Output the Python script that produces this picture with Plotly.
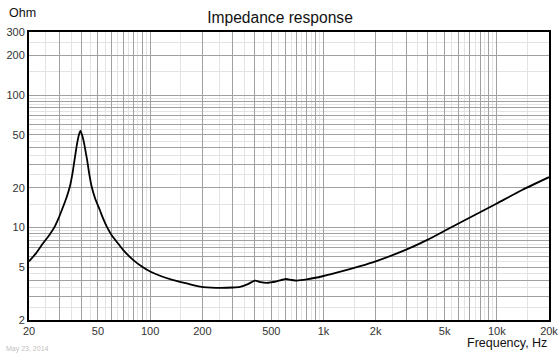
import plotly.graph_objects as go

# Impedance curve
freq_hz = [20, 22, 24.1, 26.4, 28.1, 29.6, 30.9, 32.9, 34.4, 35.7, 36.6, 37.3, 37.9, 38.8,
           39.6, 40.5, 41.6, 42.5, 43.3, 44.4, 46.0, 48.2, 51.3, 53.5, 56.3, 60.1, 65.7,
           70, 80, 90, 100, 115, 136, 160, 194, 240,
           300, 330, 369, 403, 435, 471, 537, 608, 650, 701, 801, 1000, 1300, 1626,
           2000, 3000, 4000, 5000, 7000, 10000, 14000, 20000]
impedance_ohm = [5.55, 6.4, 7.6, 8.9, 10.1, 11.7, 13.5, 16.8, 20.3, 26, 32.3, 38, 43.2, 50,
                 53.8, 50, 43.2, 37, 32.3, 26, 20.3, 16.5, 13.5, 11.7, 10.1, 8.7, 7.5,
                 6.75, 5.67, 5.05, 4.65, 4.3, 4.0, 3.8, 3.57, 3.5,
                 3.52, 3.56, 3.75, 3.97, 3.86, 3.82, 3.92, 4.08, 4.02, 3.97, 4.05, 4.3,
                 4.7, 5.1, 5.55, 6.8, 8.1, 9.45, 11.9, 15.2, 19.2, 24.0]

# Axis ticks / grid
x_major = [20, 30, 40, 50, 60, 70, 80, 90, 100, 200, 300, 400, 500, 600, 700, 800, 900,
           1000, 2000, 3000, 4000, 5000, 6000, 7000, 8000, 9000, 10000, 20000]
x_labels = {20: "20", 50: "50", 100: "100", 200: "200", 500: "500", 1000: "1k",
            2000: "2k", 5000: "5k", 10000: "10k", 20000: "20k"}
x_minor = [25, 35, 45, 55, 65, 75, 85, 95, 150, 250, 350, 450, 550, 650, 750, 850, 950,
           1500, 2500, 3500, 4500, 5500, 6500, 7500, 8500, 9500, 15000]
y_major = [2, 3, 4, 5, 6, 7, 8, 9, 10, 20, 30, 40, 50, 60, 70, 80, 90, 100, 200, 300]
y_labels = {2: "2", 5: "5", 10: "10", 20: "20", 50: "50", 100: "100", 200: "200", 300: "300"}
y_minor = [2.5, 3.5, 4.5, 5.5, 6.5, 7.5, 8.5, 9.5, 15, 25, 35, 45, 55, 65, 75, 85, 95,
           150, 250]

FONT = "Liberation Sans, Arial, sans-serif"
DARK_GRID = "#a0a0a0"
LIGHT_GRID = "#e3e3e3"

fig = go.Figure()
fig.add_trace(go.Scatter(x=freq_hz, y=impedance_ohm, mode="lines",
                         line=dict(color="#000000", width=1.8, shape="spline", smoothing=0.6),
                         hoverinfo="skip", showlegend=False))

fig.update_layout(
    width=560, height=356,
    margin=dict(l=29, r=11, t=32, b=36),
    paper_bgcolor="white", plot_bgcolor="white",
    font=dict(family=FONT, size=11, color="#333333"),
    title=dict(text="Impedance response", x=0.5, xref="container", xanchor="center",
               y=1 - 18 / 356, yref="container", yanchor="middle",
               font=dict(family=FONT, size=15.6, color="#111111")),
    showlegend=False,
)

fig.update_xaxes(
    type="log", range=[1.30103, 4.30103], automargin=False,
    tickmode="array", tickvals=x_major,
    ticktext=[x_labels.get(v, "") for v in x_major],
    showgrid=True, gridcolor=DARK_GRID, gridwidth=1,
    minor=dict(tickmode="array", tickvals=x_minor, showgrid=True,
               gridcolor=LIGHT_GRID, gridwidth=1, ticks=""),
    ticks="", showline=True, mirror=True, linecolor="#000000", linewidth=2,
    zeroline=False, tickfont=dict(size=11, color="#333333"),
)
fig.update_yaxes(
    type="log", range=[0.30103, 2.47712], automargin=False,
    tickmode="array", tickvals=y_major,
    ticktext=[y_labels.get(v, "") for v in y_major],
    showgrid=True, gridcolor=DARK_GRID, gridwidth=1,
    minor=dict(tickmode="array", tickvals=y_minor, showgrid=True,
               gridcolor=LIGHT_GRID, gridwidth=1, ticks=""),
    ticks="", showline=True, mirror=True, linecolor="#000000", linewidth=2,
    zeroline=False, tickfont=dict(size=11, color="#333333"),
)

fig.add_annotation(text="Ohm", xref="paper", yref="paper", x=-22 / 520, y=1 + 19 / 288,
                   xanchor="left", yanchor="middle", showarrow=False,
                   font=dict(family=FONT, size=12.5, color="#111111"))
fig.add_annotation(text="Frequency, Hz", xref="paper", yref="paper", x=1, y=-23 / 288,
                   xanchor="right", yanchor="middle", showarrow=False,
                   font=dict(family=FONT, size=12.5, color="#111111"))
fig.add_annotation(text="May 23, 2014", xref="paper", yref="paper", x=-25 / 520, y=-29 / 288,
                   xanchor="left", yanchor="middle", showarrow=False,
                   font=dict(family=FONT, size=7, color="#c0c0c0"))

fig.write_html("out.html", config={"displayModeBar": False},
               post_script="document.body.style.margin='0px';")
